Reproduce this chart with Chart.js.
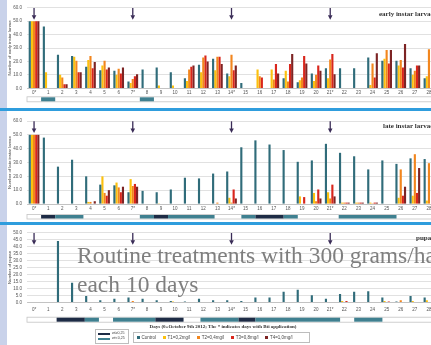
<!DOCTYPE html>
<html><head><meta charset="utf-8">
<script src="https://cdn.jsdelivr.net/npm/chart.js@4.4.0/dist/chart.umd.min.js"></script>
<style>
html,body{margin:0;padding:0;width:431px;height:345px;overflow:hidden;background:#c9d2ea;position:relative;font-family:"Liberation Sans",Arial,sans-serif;}
.panel{position:absolute;left:7px;width:430px;background:#fff;}
.bline{position:absolute;left:0;width:431px;background:#2f9ddd;}
canvas{position:absolute;left:0;}
.ptitle{position:absolute;font-family:"Liberation Serif",serif;font-weight:bold;font-size:7px;color:#333;white-space:nowrap;line-height:1;}
.overlay{position:absolute;left:77px;font-family:"Liberation Serif",serif;font-size:23.5px;line-height:23.5px;color:#7f7f7f;white-space:nowrap;}
.xtitle{position:absolute;top:324px;left:100px;width:246px;text-align:center;font-family:"Liberation Serif",serif;font-weight:bold;font-size:5px;color:#333;white-space:nowrap;}
.legend{position:absolute;background:#fff;border:0.8px solid #bdbdbd;font-size:4.5px;color:#444;white-space:nowrap;}
.legend span.sw{display:inline-block;width:3px;height:3px;margin-right:1.5px;vertical-align:middle;}
.legend .it{display:inline-block;margin-right:7px;}
</style></head>
<body>
<div class="panel" style="top:0;height:107.5px"></div>
<div class="bline" style="top:107.5px;height:3px"></div>
<div class="panel" style="top:110.5px;height:111.5px"></div>
<div class="bline" style="top:222px;height:3px"></div>
<div class="panel" style="top:225px;height:120px"></div>

<canvas id="c1" width="440" height="107" style="top:0"></canvas>
<canvas id="c2" width="440" height="111" style="top:111px"></canvas>
<canvas id="c3" width="440" height="100" style="top:225px"></canvas>

<div class="ptitle" style="left:379px;top:10.5px">early instar larvae</div>
<div class="ptitle" style="left:383px;top:122.5px">late instar larvae</div>
<div class="ptitle" style="left:416px;top:234.5px">pupae</div>

<div class="overlay" style="top:244.3px">Routine treatments with 300 grams/ha</div>
<div class="overlay" style="top:273.3px">each 10 days</div>

<div class="xtitle">Days (0=October 9th 2012; The * indicates days with Bti application)</div>

<div class="legend" style="left:95px;top:329px;width:32px;height:13px;">
  <div style="position:absolute;left:2px;top:2.5px;width:12px;height:2.5px;background:#1d2b45"></div>
  <div style="position:absolute;left:16px;top:1.2px;font-size:3.6px">wt≥0,25</div>
  <div style="position:absolute;left:2px;top:7.5px;width:12px;height:2.5px;background:#3f8090"></div>
  <div style="position:absolute;left:16px;top:6.2px;font-size:3.6px">wt&lt;0,25</div>
</div>
<div class="legend" id="leg" style="left:133px;top:332px;width:172px;height:9px;line-height:9px;padding-left:3px;"></div>

<script>
// ---- data ----
const days = ['0*','1','2','3','4','5','6','7*','8','9','10','11','12','13','14*','15','16','17','18','19','20','21*','22','23','24','25','26','27','28'];
const seriesNames = ['Control','T1=0,2mg/l','T2=0,4mg/l','T3=0,8mg/l','T4=1,0mg/l'];
const seriesColors = ['#306c7a','#fcc10f','#f2861e','#d9261c','#7d2424'];
const applicationDays = ['0*','7*','14*','21*'];

const earlyControl = [50,46,25,24,16,13.5,13,5,14,15.5,12,7.5,17.5,22,11,4,0,0,7.5,4.5,11,15,15,15,23,20.5,20.5,15,7.5];
const earlyT1 = [50,12,10,23.5,21,17,10,4,0,2,2,5.5,12,13.5,9,0,14,14,13,6,5.5,7.5,0,0,2.5,22,17,10,9];
const earlyT2 = [50,0,8,20.5,24,20.5,14.5,7,0,0,0,14,23,23.5,25,0,9,6.5,5,8,10,21.5,0,0,18.5,28.5,21,13,29];
const earlyT3 = [50,0,3,12,15,14,11,9,0,0,0,16,24.5,23.5,13.5,0,8,18,18,24,17,25.5,0,0,8,18.5,15.5,17,null];
const earlyT4 = [50,0,3,12,19.5,15.5,15.5,10.5,0,0,0,17,20,18,17,0,0,11,25.5,18.5,13,10.5,0,0,26,28.5,33,17,null];

const lateControl = [50,48,27,32,20,14,13.5,8.5,9.5,8.5,10.5,19,18.5,22,23.5,41,46,43,39,30.5,31.5,43.5,37,34.5,25,31.5,29,33,32.5];
const lateT1 = [50,0,0,0,1.5,20,15.5,18,0.3,0.5,0,0,0,0,4.5,0,0,0,0,5.5,8,8.5,1,1,1,0,4.5,6,2.5];
const lateT2 = [50,0,0,0,1.5,8,12,13,0,0,0,0,0,1,1,0,0,0,0,0,2,4,1,1,0.5,0,25,36,29.5];
const lateT3 = [50,0,0,0,0,6,8.5,14.5,0,0,0,0,0,0,10.5,0,0,0,0,5,10.5,14,1,1,1,0,6,8,null];
const lateT4 = [50,0,0,0,2,10,12.5,12.5,0,0,0,0,0,0,4,0,0,0,0,0,4,5.5,1,1,1,0,12.5,26,null];

const pupaeControl = [0,0,44,14,4.5,1.5,2.5,3.5,2.5,1.5,1,0.5,2.5,1.5,1.5,1,3.5,3.5,7.5,9,5,2.5,6,7.5,8,3.5,0.5,4.5,3.5];
const pupaeT1 = [0,0,0,0,0,0,0,0,0,0,0.5,0,0,0,0,0,0,0,0,0,0,0,1,0,0,1,0,1,1.5];
const pupaeT2 = [0,0,0,0,0,0,0,1,0,0,0,0,0,0,0,0,0,0,0,0,0,0,0,0,0,0,1.5,0,null];
const pupaeT3 = [0,0,0,0,0,0,0,0,0,0,0,0,0,0,0,0,0,0,0,0,0,0,1,0,0,0.5,0,0,null];
const pupaeT4 = [0,0,0,0,0,0,0,0,0,0,0,0,0,0,0,0,0,0,0,0,0,0,0,0,0,0,0,0,null];

const yTicks1 = [0,10,20,30,40,50,60];
const yTicks3 = [0,5,10,15,20,25,30,35,40,45,50];

// weather bands in day units: [start, end, kind]  (a = dark, b = teal)
const band1 = [[1,2,'b'],[8,9,'b']];
const band2 = [[1,2,'a'],[2,4,'b'],[8,9,'b'],[9,10,'a'],[10,13.3,'b'],[15.2,16.2,'b'],[16.2,18.2,'a'],[18.2,19.2,'b'],[22.1,26.2,'b']];
const band3 = [[2.1,4.1,'a'],[4.1,5.1,'b'],[6.1,9.1,'b'],[9.1,11.1,'a'],[12.3,15,'b'],[15,16.2,'a'],[16.2,22.2,'b'],[23.2,25.2,'b']];
const bandColors = {a:'#1d2b45', b:'#3f8090'};

// ---- plugins ----
const bandPlugin = {
  id:'bands',
  afterDraw(chart, args, opts){
    const x = chart.scales.x, ctx = chart.ctx;
    const y = chart.chartArea.bottom + opts.off, h = opts.h;
    const px = u => x.getPixelForValue(u - 0.5);
    ctx.save();
    ctx.fillStyle = '#fff'; ctx.strokeStyle = '#c4c4c4'; ctx.lineWidth = 0.8;
    ctx.fillRect(x.left, y - 0.5, x.right - x.left, h + 1);
    ctx.strokeRect(x.left, y - 0.5, x.right - x.left, h + 1);
    opts.rows.forEach(r => {
      ctx.fillStyle = bandColors[r[2]];
      ctx.fillRect(px(r[0]), y, px(r[1]) - px(r[0]), h);
    });
    ctx.restore();
  }
};
const arrowPlugin = {
  id:'arrows',
  afterDatasetsDraw(chart){
    const x = chart.scales.x, ctx = chart.ctx, top = chart.chartArea.top;
    ctx.save();
    ctx.strokeStyle = '#3a2c57'; ctx.fillStyle = '#3a2c57'; ctx.lineWidth = 1.3;
    applicationDays.forEach(d => {
      const px = x.getPixelForValue(days.indexOf(d));
      ctx.beginPath(); ctx.moveTo(px, top + 0.3); ctx.lineTo(px, top + 8); ctx.stroke();
      ctx.beginPath(); ctx.moveTo(px - 2.3, top + 7.5); ctx.lineTo(px + 2.3, top + 7.5); ctx.lineTo(px, top + 12); ctx.closePath(); ctx.fill();
    });
    ctx.restore();
  }
};

function makeChart(id, series, cfg){
  new Chart(document.getElementById(id), {
    type:'bar',
    data:{labels:days, datasets:series.map((d,i)=>({label:seriesNames[i], data:d, backgroundColor:seriesColors[i], borderWidth:0, categoryPercentage:0.76, barPercentage:1}))},
    options:{
      responsive:false, animation:false, devicePixelRatio:1,
      layout:{padding:{top:cfg.top, right:4, left:0, bottom:0}},
      plugins:{legend:{display:false}, tooltip:{enabled:false}, bands:{rows:cfg.band, off:cfg.boff, h:cfg.bh}},
      scales:{
        x:{grid:{display:false, drawTicks:false}, border:{color:'#bdbdbd', width:0.8},
           ticks:{autoSkip:false, maxRotation:0, padding:cfg.tp, font:{size:4.5, family:'Liberation Sans'}, color:'#555'},
           afterFit(s){ s.height = cfg.xh; }},
        y:{min:0, max:cfg.max, afterBuildTicks(s){ s.ticks = cfg.yt.map(v=>({value:v})); },
           ticks:{autoSkip:false, padding:5, font:{size:4.5, family:'Liberation Sans'}, color:'#555', callback:v=>Number(v).toFixed(1)},
           grid:{color:'#d9d9d9', lineWidth:0.8, drawTicks:false}, border:{display:false},
           title:{display:true, text:cfg.title, font:{size:4.3, family:'Liberation Sans'}, color:'#444', padding:{top:7,bottom:0}},
           afterFit(s){ s.width = 27; }}
      }
    },
    plugins:[bandPlugin, arrowPlugin]
  });
}

makeChart('c1', [earlyControl,earlyT1,earlyT2,earlyT3,earlyT4], {top:7, xh:18.7, tp:2, max:60, yt:yTicks1, title:'Number of early instar larvae', band:band1, boff:9, bh:4});
makeChart('c2', [lateControl,lateT1,lateT2,lateT3,lateT4], {top:10, xh:18, tp:2.3, max:60, yt:yTicks1, title:'Number of late instar larvae', band:band2, boff:11, bh:3.5});
makeChart('c3', [pupaeControl,pupaeT1,pupaeT2,pupaeT3,pupaeT4], {top:6.7, xh:22.7, tp:5, max:50, yt:yTicks3, title:'Number of pupae', band:band3, boff:15.4, bh:4});

// series legend
const leg = document.getElementById('leg');
seriesNames.forEach((n,i)=>{
  const it = document.createElement('span'); it.className='it';
  it.innerHTML = '<span class="sw" style="background:'+seriesColors[i]+'"></span>'+n;
  leg.appendChild(it);
});
</script>
</body></html>
